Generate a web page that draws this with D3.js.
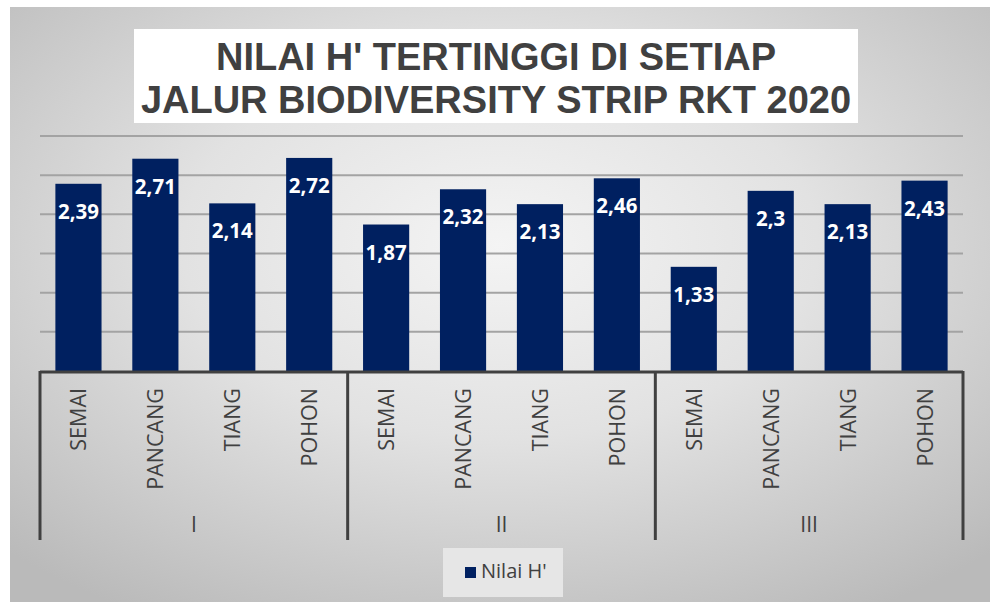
<!DOCTYPE html>
<html><head><meta charset="utf-8">
<script src="https://cdn.jsdelivr.net/npm/d3@7/dist/d3.min.js"></script>
<style>html,body{margin:0;padding:0;background:#fff;}svg{display:block;}</style>
</head><body>
<svg id="chart" width="990" height="602"></svg>
<script>
const titleLines = ["NILAI H' TERTINGGI DI SETIAP", "JALUR BIODIVERSITY STRIP RKT 2020"];
const groups = ["I", "II", "III"];
const categories = ["SEMAI", "PANCANG", "TIANG", "POHON"];
const values = [2.39, 2.71, 2.14, 2.72, 1.87, 2.32, 2.13, 2.46, 1.33, 2.30, 2.13, 2.43];
const valueLabels = ["2,39", "2,71", "2,14", "2,72", "1,87", "2,32", "2,13", "2,46", "1,33", "2,3", "2,13", "2,43"];
const yTicks = [0.5, 1, 1.5, 2, 2.5, 3];
const seriesName = "Nilai H'";

const svg = d3.select("#chart");
const defs = svg.append("defs");
const grad = defs.append("radialGradient").attr("id", "bg")
  .attr("cx", "50%").attr("cy", "40%").attr("r", "72%");
grad.append("stop").attr("offset", "0%").attr("stop-color", "#f4f4f4");
grad.append("stop").attr("offset", "45%").attr("stop-color", "#e2e2e2");
grad.append("stop").attr("offset", "100%").attr("stop-color", "#bababa");

svg.append("rect").attr("x", 10).attr("y", 7).attr("width", 980).attr("height", 595).attr("fill", "url(#bg)");

// title
svg.append("rect").attr("x", 134).attr("y", 29).attr("width", 724).attr("height", 94).attr("fill", "#ffffff");
svg.selectAll("text.title").data(titleLines).enter().append("text")
  .attr("class", "title")
  .attr("x", 496).attr("y", (d, i) => 70 + i * 43)
  .attr("text-anchor", "middle")
  .attr("font-family", "Liberation Sans, Arial, sans-serif")
  .attr("font-weight", "bold").attr("font-size", 38).attr("fill", "#404040")
  .text(d => d);

// data rows
const rows = [];
groups.forEach((g, gi) => categories.forEach((c, ci) => {
  const i = gi * categories.length + ci;
  rows.push({ key: g + "-" + c, group: g, cat: c, value: values[i], label: valueLabels[i] });
}));

const x = d3.scaleBand().domain(rows.map(d => d.key)).range([40, 963]).paddingInner(0.4).paddingOuter(0.2);
const y = d3.scaleLinear().domain([0, 3]).range([371, 136]);
const gx = d3.scaleBand().domain(groups).range([40, 963]);

// gridlines
svg.append("g").selectAll("line").data(yTicks).enter().append("line")
  .attr("x1", 40).attr("x2", 963)
  .attr("y1", d => y(d)).attr("y2", d => y(d))
  .attr("stroke", "#a3a3a3").attr("stroke-width", 2);

// bars
svg.append("g").selectAll("rect").data(rows).enter().append("rect")
  .attr("x", d => x(d.key)).attr("width", x.bandwidth())
  .attr("y", d => y(d.value)).attr("height", d => y(0) - y(d.value))
  .attr("fill", "#002060");

svg.append("g").selectAll("text").data(rows).enter().append("text")
  .attr("x", d => x(d.key) + x.bandwidth() / 2)
  .attr("y", d => y(d.value) + 35)
  .attr("text-anchor", "middle")
  .attr("font-family", "Open Sans, sans-serif").attr("font-weight", "bold")
  .attr("font-size", 20.5).attr("fill", "#ffffff")
  .text(d => d.label);

// axis line and separators
const axisG = svg.append("g");
axisG.append("line").attr("x1", 40).attr("x2", 963).attr("y1", 372).attr("y2", 372)
  .attr("stroke", "#404040").attr("stroke-width", 3);
const seps = groups.map(g => gx(g)).concat([gx(groups[groups.length - 1]) + gx.bandwidth()]);
axisG.selectAll("line.sep").data(seps).enter().append("line").attr("class", "sep")
  .attr("x1", d => d).attr("x2", d => d).attr("y1", 371).attr("y2", 540)
  .attr("stroke", "#404040").attr("stroke-width", 3);

// category labels
axisG.selectAll("text.cat").data(rows).enter().append("text").attr("class", "cat")
  .attr("transform", d => `translate(${x(d.key) + x.bandwidth() / 2 + 8},388) rotate(-90)`)
  .attr("text-anchor", "end")
  .attr("font-family", "Open Sans, sans-serif").attr("font-size", 21.5).attr("fill", "#404040")
  .text(d => d.cat);

axisG.selectAll("text.grp").data(groups).enter().append("text").attr("class", "grp")
  .attr("x", d => gx(d) + gx.bandwidth() / 2).attr("y", 532)
  .attr("text-anchor", "middle")
  .attr("font-family", "Open Sans, sans-serif").attr("font-size", 21).attr("fill", "#404040")
  .text(d => d);

// legend
const lg = svg.append("g");
lg.append("rect").attr("x", 443).attr("y", 548).attr("width", 120).attr("height", 49).attr("fill", "#e6e6e6");
lg.append("rect").attr("x", 465).attr("y", 567).attr("width", 11).attr("height", 11).attr("fill", "#002060");
lg.append("text").attr("x", 481).attr("y", 578)
  .attr("font-family", "Open Sans, sans-serif").attr("font-size", 20).attr("fill", "#404040")
  .text(seriesName);
</script>
</body></html>
